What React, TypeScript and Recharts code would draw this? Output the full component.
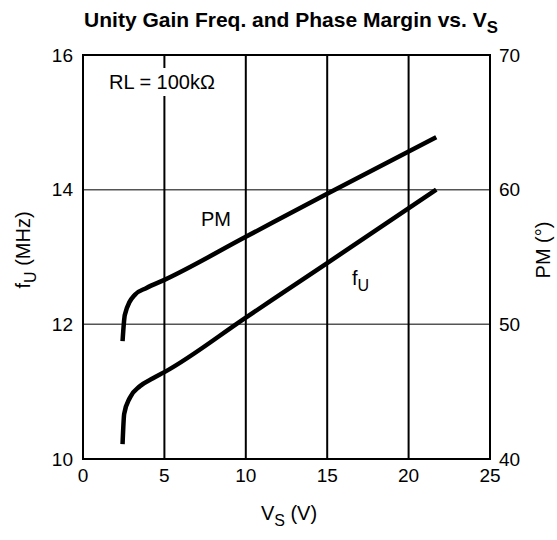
import React from "react";
import {
  LineChart,
  Line,
  XAxis,
  YAxis,
  CartesianGrid,
  ReferenceArea,
} from "recharts";

// supply voltage (V) points for each curve
const vsFu = [2.43, 2.53, 2.88, 3.49, 4.3, 5, 10, 15, 21.7];
const fuValues = [10.22, 10.67, 10.91, 11.08, 11.2, 11.29, 12.1, 12.91, 14.0];

const vsPm = [2.43, 2.57, 3.19, 3.9, 5, 10, 15, 21.7];
const pmValues = [48.75, 50.7, 52.2, 52.7, 53.3, 56.5, 59.7, 63.9];

const xTicks = [0, 5, 10, 15, 20, 25];
const fuTicks = [10, 12, 14, 16];
const pmTicks = [40, 50, 60, 70];

const fuData = vsFu.map((v, i) => ({ v, fu: fuValues[i] }));
const pmData = vsPm.map((v, i) => ({ v, pm: pmValues[i] }));

const font = 'Arial, "Liberation Sans", Helvetica, sans-serif';
const tickStyle = { fontSize: 19, fill: "#000", fontFamily: font };

const Sub = ({ children }: { children: React.ReactNode }) => (
  <span style={{ fontSize: "0.8em", position: "relative", top: "0.35em" }}>{children}</span>
);

const label = (style: React.CSSProperties): React.CSSProperties => ({
  position: "absolute",
  fontFamily: font,
  fontSize: 20,
  color: "#000",
  whiteSpace: "nowrap",
  lineHeight: 1,
  ...style,
});

export default function App() {
  return (
    <div style={{ position: "absolute", left: 0, top: 0, width: 557, height: 540, background: "#fff" }}>
      <LineChart
        width={557}
        height={540}
        margin={{ top: 55, right: 27, bottom: 51, left: 43 }}
      >
        <CartesianGrid
          yAxisId="left"
          vertical={false}
          stroke="#555"
          strokeWidth={1.5}
        />
        <CartesianGrid
          yAxisId="left"
          horizontal={false}
          stroke="#000"
          strokeWidth={2}
        />
        <XAxis
          dataKey="v"
          type="number"
          domain={[0, 25]}
          ticks={xTicks}
          allowDuplicatedCategory={false}
          tick={tickStyle}
          tickLine={false}
          axisLine={false}
          tickSize={6}
          tickMargin={4}
          height={30}
        />
        <YAxis
          yAxisId="left"
          type="number"
          domain={[10, 16]}
          ticks={fuTicks}
          tick={tickStyle}
          tickLine={false}
          axisLine={false}
          tickSize={6}
          tickMargin={4}
          width={40}
        />
        <YAxis
          yAxisId="right"
          orientation="right"
          type="number"
          domain={[40, 70]}
          ticks={pmTicks}
          tick={tickStyle}
          tickLine={false}
          axisLine={false}
          tickSize={6}
          tickMargin={3}
          width={40}
        />
        <ReferenceArea
          yAxisId="left"
          x1={0}
          x2={25}
          y1={10}
          y2={16}
          fill="none"
          fillOpacity={0}
          stroke="#000"
          strokeWidth={2}
          ifOverflow="visible"
        />
        <Line
          yAxisId="left"
          data={fuData}
          dataKey="fu"
          type="monotone"
          stroke="#000"
          strokeWidth={4.5}
          dot={false}
          isAnimationActive={false}
        />
        <Line
          yAxisId="right"
          data={pmData}
          dataKey="pm"
          type="monotone"
          stroke="#000"
          strokeWidth={4.5}
          dot={false}
          isAnimationActive={false}
        />
      </LineChart>

      <div style={label({ left: 0, width: 582, top: 9, textAlign: "center", fontWeight: "bold", fontSize: 21 })}>
        Unity Gain Freq. and Phase Margin vs. V<Sub>S</Sub>
      </div>

      <div style={label({ left: 105, top: 68, padding: "0 4px", background: "#fff", height: 28, lineHeight: "28px" })}>
        RL = 100kΩ
      </div>

      <div style={label({ left: 201, top: 209 })}>PM</div>
      <div style={label({ left: 352, top: 268 })}>
        f<Sub>U</Sub>
      </div>

      <div style={label({ left: 0, width: 578, top: 503, textAlign: "center" })}>
        V<Sub>S</Sub> (V)
      </div>

      <div
        style={label({
          left: 23,
          top: 250,
          transform: "translate(-50%, -50%) rotate(-90deg)",
        })}
      >
        f<Sub>U</Sub> (MHz)
      </div>

      <div
        style={label({
          left: 543,
          top: 250,
          transform: "translate(-50%, -50%) rotate(-90deg)",
        })}
      >
        PM (°)
      </div>
    </div>
  );
}
